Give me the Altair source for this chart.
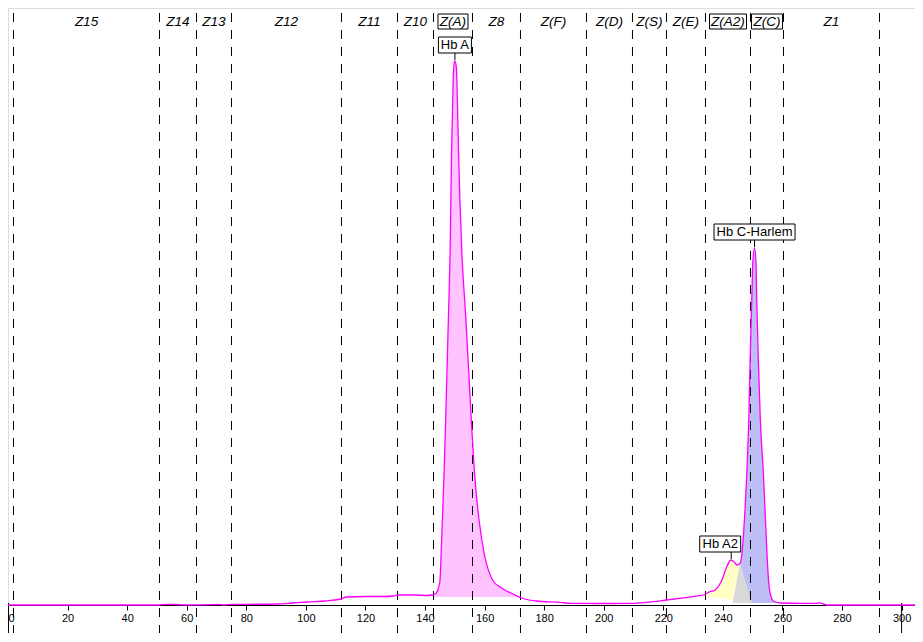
import altair as alt
import pandas as pd

# ---------------- data ----------------
time_s = [0, 20, 40, 50.3, 53.3, 55.3, 57.3, 60.3, 68.3, 70.4, 72.4, 75.4, 80.4, 90.4,
          95.5, 100.5, 106.5, 111.6, 113.6, 120.6, 125.6, 129.6, 130.6, 136.7, 140.7,
          142.2, 143.4, 144.51, 145.01, 145.41, 145.82, 146.42, 146.92, 147.83, 148.43,
          148.93, 149.43, 149.64, 150.04, 150.54, 150.74, 151.24, 152.35, 153.76, 155.56,
          156.57, 158.18, 159.89, 162.9, 165.71, 169.53, 172.45, 177.47, 185.31, 188.93,
          201.0, 210.0, 216.6, 221.1, 228.1, 232.1, 233.45, 235.66, 237.37, 239.68,
          241.29, 242.69, 243.8, 244.7, 245.81, 246.51, 247.42, 248.22, 248.72, 249.12,
          249.73, 250.03, 250.63, 251.13, 251.34, 251.94, 252.54, 253.65, 254.55, 255.25,
          255.86, 256.96, 259.27, 266.3, 271.3, 272.3, 275.0, 281.4, 304.5]
signal = [0, 0, 0, 0, 0.7, 0.7, 0.3, 0, 0.3, 0.6, 0, 0.6, 0.7, 1,
          2, 3, 4, 6, 8, 8.5, 8.5, 9, 10, 10, 9.5,
          10, 11, 17, 24, 51, 84, 134, 184, 284, 354,
          454, 521, 537, 544, 537, 521, 454, 354, 284, 184,
          134, 84, 51, 24, 17, 11, 7, 4, 2.7, 1.7,
          1.5, 1.7, 3.3, 5, 7.7, 9.3, 10, 13.3, 15, 25,
          38, 45, 43, 40, 41.7, 55, 95, 145, 188, 242,
          308, 341, 357, 341, 308, 242, 188, 128, 68, 28,
          12, 4, 2, 1.7, 1.7, 2.2, 0, 0, 0]

zone_bounds = [1.85, 50.86, 63.28, 75.03, 111.96, 130.76, 142.85, 155.94, 172.05, 194.21,
               209.65, 221.07, 234.16, 249.27, 260.35, 292.58]
zone_names = ["Z15", "Z14", "Z13", "Z12", "Z11", "Z10", "Z(A)", "Z8", "Z(F)",
              "Z(D)", "Z(S)", "Z(E)", "Z(A2)", "Z(C)", "Z1"]
boxed_zones = ["Z(A)", "Z(A2)", "Z(C)"]

peak_names = ["Hb A", "Hb A2", "Hb C-Harlem"]
peak_time = [150.04, 242.8, 250.63]
peak_signal = [544, 45, 357]

# integrated areas
hba_range = [142.2, 172.45]
hba_base = 8
a2_time = [233.45, 235.66, 237.37, 239.68, 241.29, 242.69, 243.8, 244.7, 245.81, 249.73]
a2_top = [10, 13.3, 15, 25, 38, 45, 43, 40, 41.7, 2.3]
a2_base = [8.5, 8, 7.3, 6.5, 6, 5.3, 5, 4.5, 4, 2.3]
c_time = [243.3, 245.81, 246.51, 247.42, 248.22, 248.72, 249.12, 249.73, 250.03, 250.63,
          251.13, 251.34, 251.94, 252.54, 253.65, 254.55, 255.25, 255.86, 256.96, 259.27]
c_top = [2, 41.7, 55, 95, 145, 188, 242, 308, 341, 357,
         341, 308, 242, 188, 128, 68, 28, 12, 4, 2]
c_base = 2
overlap_time = [243.3, 245.81, 249.73]
overlap_top = [2, 41.7, 2]

axis_ticks = list(range(0, 301, 20))
frame_x = [0.17, 300]

# ---------------- styles ----------------
FONT = "Liberation Sans"
MAGENTA = "#FF00FF"
zone_box_w = {"Z(A)": 30, "Z(A2)": 37, "Z(C)": 31}
label_style = {"Hb A": (0, 33), "Hb A2": (-11, 41), "Hb C-Harlem": (0, 81)}

# ---------------- frames ----------------
curve = pd.DataFrame({"x": time_s, "y": signal})
hba = curve[(curve.x >= hba_range[0]) & (curve.x <= hba_range[1])].copy()
hba["y0"] = hba_base
a2 = pd.DataFrame({"x": a2_time, "y": a2_top, "y0": a2_base})
cc = pd.DataFrame({"x": c_time, "y": c_top, "y0": c_base})
ov = pd.DataFrame({"x": overlap_time, "y": overlap_top, "y0": c_base})
zones = pd.DataFrame({
    "x": [(zone_bounds[i] + zone_bounds[i + 1]) / 2 for i in range(len(zone_names))],
    "name": zone_names})
bounds = pd.DataFrame({"x": zone_bounds})
frame = pd.DataFrame({"x": frame_x})
peaks = pd.DataFrame({"x": peak_time, "y": peak_signal, "name": peak_names})

xscale = alt.Scale(domain=[0, 304.5], nice=False, zero=False)
yscale = alt.Scale(domain=[0, 597], nice=False, zero=False)
xaxis = alt.Axis(values=axis_ticks, title=None, grid=False, labelFlush=True,
                 labelFont=FONT, labelFontSize=11, labelColor="black",
                 domainColor="black", tickColor="black", tickSize=5, labelPadding=2)
X = alt.X("x:Q", scale=xscale, axis=xaxis)
Y = alt.Y("y:Q", scale=yscale, axis=None)

layers = []
layers.append(alt.Chart(hba).mark_area(color="#FFC4FF", interpolate="monotone")
              .encode(x=X, y=Y, y2="y0:Q"))
layers.append(alt.Chart(a2).mark_area(color="#FFFFC6", interpolate="linear")
              .encode(x=X, y=Y, y2="y0:Q"))
layers.append(alt.Chart(cc).mark_area(color="#BEBEF6", interpolate="monotone")
              .encode(x=X, y=Y, y2="y0:Q"))
layers.append(alt.Chart(ov).mark_area(color="#D9D9D9", interpolate="linear")
              .encode(x=X, y=Y, y2="y0:Q"))
layers.append(alt.Chart(bounds).mark_rule(color="black", strokeWidth=1, strokeDash=[9, 8])
              .encode(x=X, y=alt.value(5), y2=alt.value(630)))
layers.append(alt.Chart(frame).mark_rule(color="black", strokeWidth=1)
              .encode(x=X, y=alt.value(595), y2=alt.value(630)))
layers.append(alt.Chart(curve).mark_line(color=MAGENTA, strokeWidth=1.3, interpolate="monotone")
              .encode(x=X, y=Y))
layers.append(alt.Chart(zones).mark_text(font=FONT, fontStyle="italic", fontSize=13.5,
                                         color="black", baseline="middle", align="center")
              .encode(x=X, y=alt.value(13.5), text="name:N"))
for z in boxed_zones:
    w = zone_box_w[z]
    layers.append(alt.Chart(zones).transform_filter(alt.datum.name == z)
                  .mark_rect(fill="transparent", stroke="black", strokeWidth=1,
                             xOffset=-w / 2, x2Offset=w / 2)
                  .encode(x=X, x2="x:Q", y=alt.value(6), y2=alt.value(21)))
layers.append(alt.Chart(peaks).mark_rule(color="black", strokeWidth=1, yOffset=-1, y2Offset=-8)
              .encode(x=X, y=Y, y2="y:Q"))
for n in peak_names:
    dx, w = label_style[n]
    sub = alt.Chart(peaks).transform_filter(alt.datum.name == n)
    layers.append(sub.mark_rect(fill="white", stroke="black", strokeWidth=1,
                                xOffset=dx - w / 2, x2Offset=dx + w / 2,
                                yOffset=-24, y2Offset=-8)
                  .encode(x=X, x2="x:Q", y=Y, y2="y:Q"))
    layers.append(sub.mark_text(font=FONT, fontSize=13, color="black", baseline="middle",
                                align="center", dx=dx, dy=-16)
                  .encode(x=X, y=Y, text="name:N"))

chart = alt.layer(*layers).properties(
    width=907, height=597,
    autosize=alt.AutoSizeParams(type="none"),
    padding={"left": 0, "top": 0, "right": 0, "bottom": 28},
).configure_view(stroke=None).configure(background="white")

chart.save("out.html", embed_options={"renderer": "svg", "actions": False})
